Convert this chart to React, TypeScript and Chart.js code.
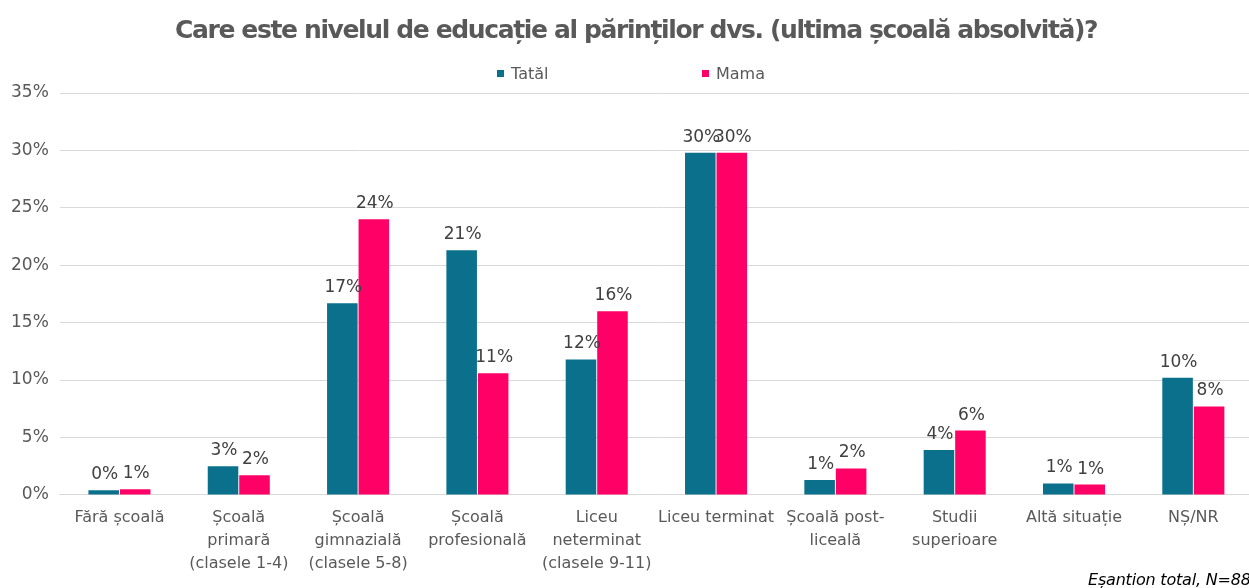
import React, { useEffect, useRef } from 'react';
import { Chart, registerables } from 'chart.js';

Chart.register(...registerables);

const categories: string[][] = [
  ['Fără școală'],
  ['Școală', 'primară', '(clasele 1-4)'],
  ['Școală', 'gimnazială', '(clasele 5-8)'],
  ['Școală', 'profesională'],
  ['Liceu', 'neterminat', '(clasele 9-11)'],
  ['Liceu terminat'],
  ['Școală post-', 'liceală'],
  ['Studii', 'superioare'],
  ['Altă situație'],
  ['NȘ/NR'],
];
const tataValues = [0.4, 2.5, 16.7, 21.3, 11.8, 29.8, 1.3, 3.9, 1.0, 10.2];
const mamaValues = [0.5, 1.7, 24.0, 10.6, 16.0, 29.8, 2.3, 5.6, 0.9, 7.7];
const seriesNames = ['Tatăl', 'Mama'];
const seriesColors = ['#0B708B', '#FF0066'];
const yMax = 35;
const yStep = 5;
const titleText = 'Care este nivelul de educație al părinților dvs. (ultima școală absolvită)?';
const footnoteText = 'Eșantion total, N=886';

const FONT = '"DejaVu Sans", "Noto Sans", sans-serif';

const overlayPlugin = {
  id: 'overlay',
  afterDatasetsDraw(chart: any) {
    const ctx = chart.ctx as CanvasRenderingContext2D;
    ctx.save();
    ctx.font = `17px ${FONT}`;
    ctx.fillStyle = '#404040';
    ctx.textAlign = 'center';
    ctx.textBaseline = 'alphabetic';
    chart.data.datasets.forEach((ds: any, i: number) => {
      const meta = chart.getDatasetMeta(i);
      meta.data.forEach((bar: any, j: number) => {
        const v = ds.data[j] as number;
        ctx.fillText(Math.round(v) + '%', bar.x + 1, bar.y - 11);
      });
    });
    ctx.restore();
  },
  afterDraw(chart: any) {
    const ctx = chart.ctx as CanvasRenderingContext2D;
    // Title
    ctx.save();
    ctx.font = `bold 25px ${FONT}`;
    ctx.fillStyle = '#595959';
    ctx.textAlign = 'left';
    ctx.textBaseline = 'alphabetic';
    const targetW = 922;
    const w0 = ctx.measureText(titleText).width;
    const n = Array.from(titleText).length;
    const ls = (targetW - w0) / n;
    (ctx as any).letterSpacing = ls.toFixed(2) + 'px';
    ctx.fillText(titleText, 636 - targetW / 2, 38);
    ctx.restore();

    // Legend
    ctx.save();
    ctx.font = `16px ${FONT}`;
    ctx.textBaseline = 'alphabetic';
    ctx.textAlign = 'left';
    const legendX = [497, 702];
    seriesNames.forEach((name, i) => {
      ctx.fillStyle = seriesColors[i];
      ctx.fillRect(legendX[i], 70, 7, 7);
      ctx.fillStyle = '#595959';
      ctx.fillText(name, legendX[i] + 14, 79);
    });
    ctx.restore();

    // Footnote
    ctx.save();
    ctx.font = `italic 16px ${FONT}`;
    ctx.fillStyle = '#000000';
    ctx.textAlign = 'left';
    ctx.textBaseline = 'alphabetic';
    (ctx as any).letterSpacing = '-0.2px';
    ctx.fillText(footnoteText, 1088, 585);
    ctx.restore();
  },
};

export default function App() {
  const canvasRef = useRef<HTMLCanvasElement | null>(null);

  useEffect(() => {
    if (!canvasRef.current) return;
    Chart.defaults.font.family = FONT;
    const chart = new Chart(canvasRef.current, {
      type: 'bar',
      data: {
        labels: categories,
        datasets: [
          {
            label: seriesNames[0],
            data: tataValues,
            backgroundColor: seriesColors[0],
            borderWidth: 0,
            categoryPercentage: 0.528,
            barPercentage: 0.97,
          },
          {
            label: seriesNames[1],
            data: mamaValues,
            backgroundColor: seriesColors[1],
            borderWidth: 0,
            categoryPercentage: 0.528,
            barPercentage: 0.97,
          },
        ],
      },
      options: {
        animation: false,
        responsive: true,
        maintainAspectRatio: false,
        layout: { padding: { top: 93, left: 0, right: 9, bottom: 1 } },
        plugins: {
          legend: { display: false },
          title: { display: false },
          tooltip: { enabled: false },
        },
        scales: {
          x: {
            grid: { display: false, drawTicks: false },
            border: { display: true, color: '#d9d9d9', width: 1 },
            ticks: {
              color: '#595959',
              font: { size: 16, lineHeight: 1.44 },
              padding: 11.5,
              maxRotation: 0,
              autoSkip: false,
            },
          },
          y: {
            min: 0,
            max: yMax,
            grid: { color: '#d9d9d9', drawTicks: false, lineWidth: 1 },
            border: { display: false },
            ticks: {
              stepSize: yStep,
              color: '#595959',
              font: { size: 17 },
              padding: 11,
              callback: (v: any) => v + '%',
            },
          },
        },
      },
      plugins: [overlayPlugin],
    });
    return () => chart.destroy();
  }, []);

  return (
    <div style={{ position: 'fixed', left: 0, top: 0, width: 1249, height: 588, overflow: 'hidden', background: '#fff' }}>
      <div style={{ position: 'relative', width: 1262, height: 588 }}>
        <canvas ref={canvasRef} />
      </div>
    </div>
  );
}
